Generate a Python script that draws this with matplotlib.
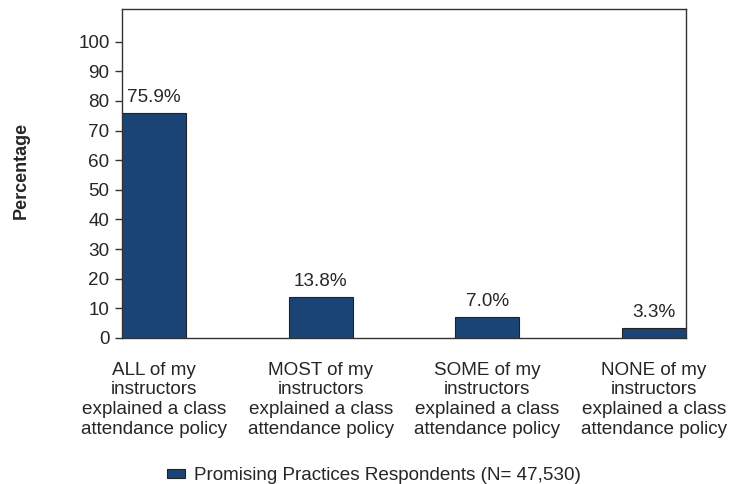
import matplotlib.pyplot as plt

plt.rcParams['font.family'] = ['Liberation Sans', 'DejaVu Sans']

# data
categories = ["ALL of my\ninstructors\nexplained a class\nattendance policy",
              "MOST of my\ninstructors\nexplained a class\nattendance policy",
              "SOME of my\ninstructors\nexplained a class\nattendance policy",
              "NONE of my\ninstructors\nexplained a class\nattendance policy"]
values = [75.9, 13.8, 7.0, 3.3]
value_labels = ["75.9%", "13.8%", "7.0%", "3.3%"]
series_name = "Promising Practices Respondents (N= 47,530)"
yticks = [0, 10, 20, 30, 40, 50, 60, 70, 80, 90, 100]

bar_color = "#1b4476"
text_color = "#262626"
fs = 13.6

fig = plt.figure(figsize=(7.31, 4.84), dpi=100)
ax = fig.add_axes([0.167, 0.3017, 0.7715, 0.6797])

x = list(range(len(values)))
bars = ax.bar(x, values, width=0.386, color=bar_color, edgecolor="#222222",
              linewidth=0.8, label=series_name)

for xi, v, lab in zip(x, values, value_labels):
    ax.annotate(lab, (xi, v), xytext=(0, 8), textcoords="offset points",
                ha="center", va="baseline", fontsize=fs, color=text_color)

ax.set_xlim(-0.193, 3.193)
ax.set_ylim(0, 111)
ax.set_yticks(yticks)
ax.set_xticks(x)
ax.set_xticklabels(categories, fontsize=fs, color=text_color, linespacing=1.22)
ax.tick_params(axis="x", length=0, pad=17)
ax.tick_params(axis="y", length=5, width=1, pad=4, labelsize=fs,
               labelcolor=text_color, color="#333333")

for s in ax.spines.values():
    s.set_color("#333333")
    s.set_linewidth(1.0)

ax.set_ylabel("Percentage", fontsize=13, fontweight="bold", color=text_color)
ax.yaxis.set_label_coords(-0.163, 0.51)

fig.legend(handles=[bars], labels=[series_name], loc="center",
           bbox_to_anchor=(374 / 731, 1 - 476 / 484), frameon=False,
           fontsize=fs, handlelength=0.95, handleheight=0.37,
           handletextpad=0.5, labelcolor=text_color)

fig.savefig("out.png", dpi=100)
